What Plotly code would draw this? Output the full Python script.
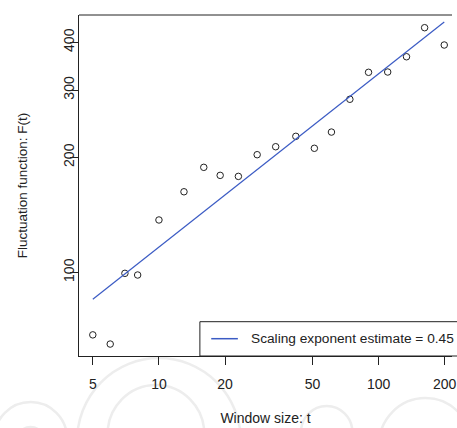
import numpy as np
import plotly.graph_objects as go

# ---- data ----
window_size = [5, 6, 7, 8, 10, 13, 16, 19, 23, 28, 34, 42, 51, 61, 74, 90, 110, 134, 162, 199]
fluctuation = [68.6, 64.9, 99.4, 98.4, 137.1, 162.5, 188.3, 179.4, 178.3, 203.2,
               213.2, 227.0, 211.2, 232.9, 283.8, 333.9, 334.5, 366.7, 436.9, 393.6]
fit_exponent = 0.4537
fit_value_at_first = 85.0
legend_label = "Scaling exponent estimate = 0.45"
x_ticks = [5, 10, 20, 50, 100, 200]
y_ticks = [100, 200, 300, 400]

# ---- layout geometry ----
W, H = 457, 428
L, R, T, B = 79, 0, 15, 72
PW, PH = W - L - R, H - T - B
FONT = "Liberation Sans, Arial, Helvetica, sans-serif"
INK = "#222222"
FIT_COLOR = "#3b5bc4"

def px_x(px):
    return (px - L) / PW

def px_y(py):
    return (H - B - py) / PH

fit_x = np.array([min(window_size), max(window_size)], dtype=float)
fit_y = fit_value_at_first * (fit_x / fit_x[0]) ** fit_exponent

fig = go.Figure()
fig.add_trace(go.Scatter(
    x=window_size, y=fluctuation, mode="markers", showlegend=False,
    marker=dict(symbol="circle-open", size=6.5, color=INK, line=dict(width=1, color=INK)),
))
fig.add_trace(go.Scatter(
    x=fit_x, y=fit_y, mode="lines", name=legend_label, showlegend=False,
    line=dict(color=FIT_COLOR, width=1.2),
))

shapes = []
# faint watermark circles (background decoration)
for cx, cy, r in [(30, 439, 37), (30, 441, 14), (160, 441, 83), (157, 434, 49),
                  (330, 432, 26), (430, 445, 47)]:
    shapes.append(dict(type="circle", xref="paper", yref="paper", layer="below",
                       x0=px_x(cx - r), x1=px_x(cx + r), y0=px_y(cy + r), y1=px_y(cy - r),
                       line=dict(color="#ededed", width=2.5)))
# top border of the plot box
shapes.append(dict(type="line", xref="paper", yref="paper", layer="above",
                   x0=0, x1=1, y0=1, y1=1, line=dict(color=INK, width=1)))
# legend box (runs off the right edge, as in the reference)
shapes.append(dict(type="rect", xref="paper", yref="paper", layer="above",
                   x0=px_x(201.5), x1=px_x(475), y0=0, y1=px_y(321.7),
                   line=dict(color=INK, width=1), fillcolor="white"))
# legend key
shapes.append(dict(type="line", xref="paper", yref="paper", layer="above",
                   x0=px_x(213), x1=px_x(240), y0=px_y(338.7), y1=px_y(338.7),
                   line=dict(color=FIT_COLOR, width=1.5)))

annotations = [dict(text=legend_label, xref="paper", yref="paper",
                    x=px_x(251), y=px_y(338.7), xanchor="left", yanchor="middle",
                    showarrow=False, font=dict(size=13.7, color=INK))]

xr0 = np.log10(5) - (93 - L) / 222.6
xr1 = xr0 + PW / 222.6

fig.update_layout(
    width=W, height=H,
    margin=dict(l=L, r=R, t=T, b=B, pad=0),
    paper_bgcolor="white", plot_bgcolor="white",
    font=dict(family=FONT, size=14, color=INK),
    shapes=shapes, annotations=annotations,
    showlegend=False,
    xaxis=dict(type="log", range=[xr0, xr1], tickvals=x_ticks, ticktext=[str(v) for v in x_ticks],
               ticks="outside", ticklen=8, tickwidth=1, tickcolor=INK,
               ticklabelstandoff=7, ticklabeloverflow="allow",
               showline=True, linecolor=INK, linewidth=1, mirror=False,
               showgrid=False, zeroline=False, tickfont=dict(size=14),
               title=dict(text="Window size: t", font=dict(size=14), standoff=22)),
    yaxis=dict(type="log", range=[1.781, 2.6736], tickvals=y_ticks, ticktext=[str(v) for v in y_ticks],
               ticks="outside", ticklen=8, tickwidth=1, tickcolor=INK, tickangle=-90,
               ticklabelstandoff=-10, ticklabeloverflow="allow",
               showline=True, linecolor=INK, linewidth=1, mirror=False,
               showgrid=False, zeroline=False, tickfont=dict(size=14),
               title=dict(text="Fluctuation function: F(t)", font=dict(size=13.5), standoff=30)),
)

fig.write_html("out.html")
